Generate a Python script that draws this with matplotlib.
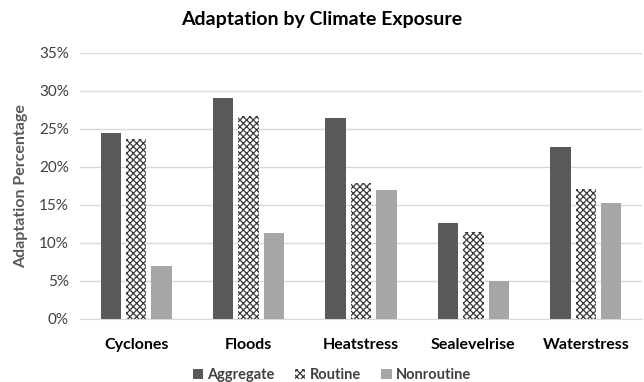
import matplotlib.pyplot as plt
import numpy as np

categories = ['Cyclones', 'Floods', 'Heatstress', 'Sealevelrise', 'Waterstress']
aggregate = [24.5, 29.1, 26.4, 12.6, 22.6]
routine = [23.7, 26.7, 17.9, 11.4, 17.1]
nonroutine = [7.0, 11.3, 17.0, 5.0, 15.2]
yticks = [0, 5, 10, 15, 20, 25, 30, 35]

plt.rcParams['font.family'] = ['Lato', 'DejaVu Sans']
plt.rcParams['hatch.linewidth'] = 0.9

fig = plt.figure(figsize=(6.44, 3.82), dpi=100)
ax = fig.add_axes([80 / 644, 1 - 319 / 382, 562 / 644, 266 / 382])

x = np.arange(len(categories))
w = 0.18
off = 0.226
ax.bar(x - off, aggregate, w, color='#595959', zorder=3, label='Aggregate')
ax.bar(x, routine, w, color='white', edgecolor='#3a3a3a', hatch='xxxxx',
       linewidth=0, zorder=3, label='Routine')
ax.bar(x + off, nonroutine, w, color='#a6a6a6', zorder=3, label='Nonroutine')

ax.set_xlim(-0.5, len(categories) - 0.5)
ax.set_ylim(0, 35)
ax.set_yticks(yticks)
ax.set_yticklabels([f'{t}%' for t in yticks], fontsize=11, color='#404040')
ax.set_xticks(x)
ax.set_xticklabels(categories, fontsize=11.5, fontweight='bold', color='black')
ax.tick_params(axis='both', length=0)
ax.tick_params(axis='x', pad=14)
ax.tick_params(axis='y', pad=8)
ax.grid(axis='y', color='#d9d9d9', linewidth=1, zorder=0)
for s in ['top', 'right', 'left']:
    ax.spines[s].set_visible(False)
ax.spines['bottom'].set_color('#d9d9d9')

ax.set_ylabel('Adaptation Percentage', fontsize=11.5, fontweight='bold', color='#595959', labelpad=8)
fig.text(0.5, 1 - 20 / 382, 'Adaptation by Climate Exposure', ha='center', va='center',
         fontsize=14, fontweight='bold')

fig.legend(loc='center', bbox_to_anchor=(332 / 644, 1 - 375 / 382), ncol=3, frameon=False,
           prop={'size': 10.5, 'weight': 'bold'}, labelcolor='#404040',
           handlelength=0.7, handleheight=0.7, handletextpad=0.3, columnspacing=1.4)

fig.savefig('out.png', dpi=100)
